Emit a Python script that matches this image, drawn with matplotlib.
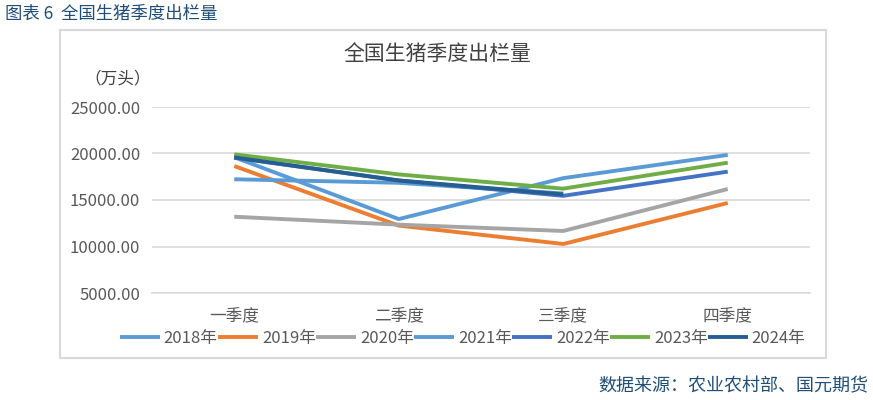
import numpy as np
import matplotlib
matplotlib.use('Agg')
import matplotlib.pyplot as plt
from matplotlib.patches import Rectangle

plt.rcParams['font.family'] = ['Noto Sans CJK SC', 'DejaVu Sans']

# quarterly hog slaughter, 10k head
quarters = ['一季度', '二季度', '三季度', '四季度']
years = ['2018年', '2019年', '2020年', '2021年', '2022年', '2023年', '2024年']
v2018 = [19600, 12950, 17350, 19850]
v2019 = [18650, 12250, 10270, 14680]
v2020 = [13200, 12350, 11670, 16180]
v2021 = [17230, 16850, 15700, np.nan]
v2022 = [19550, 17100, 15450, 18050]
v2023 = [19910, 17750, 16220, 19010]
v2024 = [19580, 17100, 15600, np.nan]
series = [v2018, v2019, v2020, v2021, v2022, v2023, v2024]
colors = ['#5B9BD5', '#ED7D31', '#A5A5A5', '#5B9BD5', '#4472C4', '#70AD47', '#255E91']
yticks = [5000, 10000, 15000, 20000, 25000]

fig = plt.figure(figsize=(8.73, 4.0), dpi=100)

# outer chart frame
fig.patches.append(Rectangle((60/873, 1-358/400), 766/873, 328/400,
                             transform=fig.transFigure, fill=False,
                             edgecolor='#D9D9D9', linewidth=1.5))

ax = fig.add_axes([152/873, 1-293/400, 658/873, 186/400])
x = np.arange(len(quarters))
for vals, c, lab in zip(series, colors, years):
    ax.plot(x, vals, color=c, linewidth=2.8, label=lab, solid_capstyle='butt')

ax.set_xlim(-0.5, 3.5)
ax.set_ylim(5000, 25000)
ax.set_yticks(yticks)
ax.set_yticklabels(['{:.2f}'.format(v) for v in yticks])
ax.set_xticks(x)
ax.set_xticklabels(quarters)
ax.grid(axis='y', color='#D9D9D9', linewidth=1.2)
ax.set_axisbelow(True)
for s in ['top', 'right', 'left']:
    ax.spines[s].set_visible(False)
ax.spines['bottom'].set_color('#D9D9D9')
ax.spines['bottom'].set_linewidth(1.2)
ax.tick_params(axis='both', length=0, colors='#595959', labelsize=12)
ax.tick_params(axis='y', pad=8.5)
ax.tick_params(axis='x', pad=10)

ax.legend(loc='center', bbox_to_anchor=(0.472, -0.242), ncol=7, frameon=False,
          handlelength=2.4, handletextpad=0.25, columnspacing=0.0,
          fontsize=12, labelcolor='#595959')

fig.text(437/873, 1-55/400, '全国生猪季度出栏量', ha='center', va='center',
         fontsize=15, color='#404040')
fig.text(84/873, 1-79/400, '（万头）', ha='left', va='center',
         fontsize=12, color='#404040')
fig.text(5/873, 1-14/400, '图表 6  全国生猪季度出栏量', ha='left', va='center',
         fontsize=12.5, color='#1F4E79')
fig.text(868/873, 1-386/400, '数据来源：农业农村部、国元期货', ha='right', va='center',
         fontsize=13, color='#1F4E79')

fig.savefig('out.png', dpi=100)
